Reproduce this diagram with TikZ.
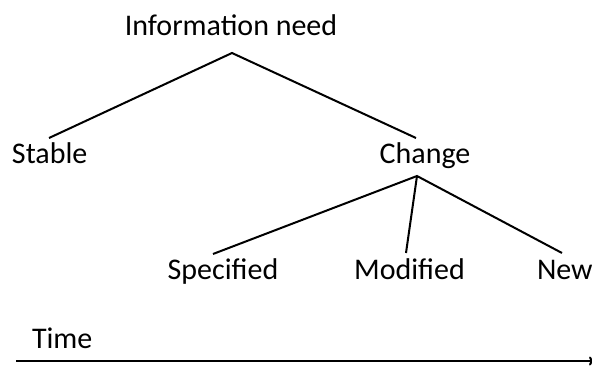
\documentclass[tikz,border=0pt]{standalone}
\usepackage{fontspec}
\setmainfont{Carlito}
\usetikzlibrary{arrows.meta}
\begin{document}
\begin{tikzpicture}[x=1pt,y=1pt,
  lbl/.style={inner sep=0pt,outer sep=0pt,font=\fontsize{30}{36}\selectfont},
  branch/.style={line width=2pt,black}]
\useasboundingbox (0,0) rectangle (592,365);
\node[lbl,anchor=base] (info) at (231,329) {Information need};
\node[lbl,anchor=base west] (stable) at (12,202) {Stable};
\node[lbl,anchor=base] (change) at (425,202) {Change};
\node[lbl,anchor=base] (spec) at (223,86) {Specified};
\node[lbl,anchor=base] (mod) at (409.5,86) {Modified};
\node[lbl,anchor=base west] (new) at (537,86) {New};
\node[lbl,anchor=base west] (time) at (32,17) {Time};
\coordinate (apexA) at (232,312);
\coordinate (endStable) at (49,227);
\coordinate (endChange) at (416,227);
\coordinate (apexB) at (417,189);
\coordinate (endSpec) at (213,111);
\coordinate (endMod) at (406,112);
\coordinate (endNew) at (562,112);
\coordinate (tstart) at (16,4);
\coordinate (tend) at (594,4);
\draw[branch] (endStable) -- (apexA) -- (endChange);
\draw[branch] (endSpec) -- (apexB) -- (endNew);
\draw[branch] (apexB) -- (endMod);
\draw[line width=2pt,-{To[length=5pt,width=9pt]}] (tstart) -- (tend);
\end{tikzpicture}
\end{document}
